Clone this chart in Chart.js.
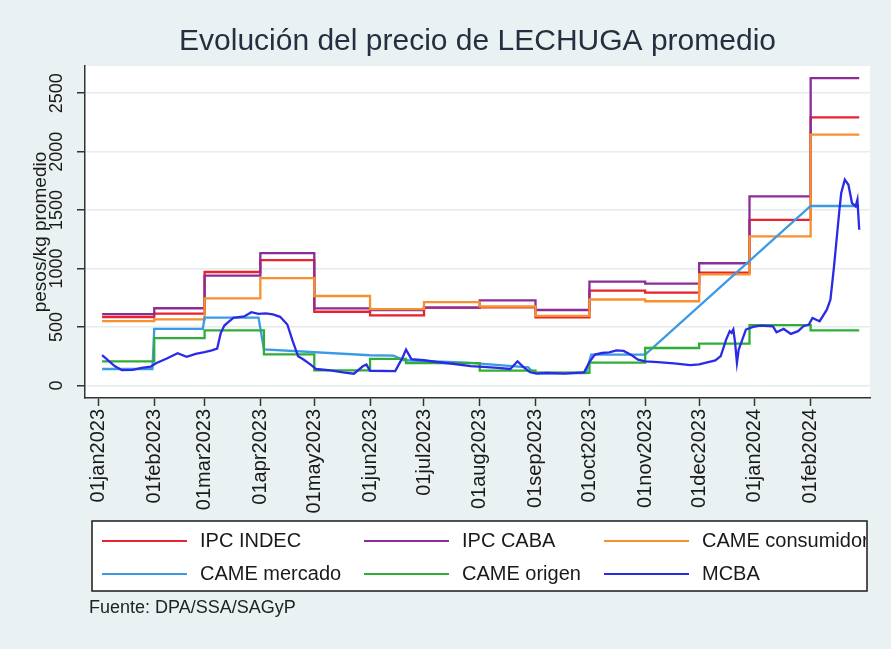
<!DOCTYPE html>
<html>
<head>
<meta charset="utf-8">
<script src="https://cdn.jsdelivr.net/npm/chart.js@4.4.1/dist/chart.umd.min.js"></script>
<style>
    html, body { margin: 0; padding: 0; background: #eaf1f3; }
    #wrap { width: 891px; height: 649px; position: relative; }
</style>
</head>
<body>
<div id="wrap"><canvas id="lechugaChart"></canvas></div>
<script>
// --- data (pesos/kg) ---
const seriesNames = ["IPC INDEC", "IPC CABA", "CAME consumidor", "CAME mercado", "CAME origen", "MCBA"];
const seriesColors = ["#e8232b", "#8c2c98", "#f7902e", "#3b9ae6", "#30ad37", "#2b2be6"];

const monthTicks = ["2023-01-01", "2023-02-01", "2023-03-01", "2023-04-01", "2023-05-01", "2023-06-01", "2023-07-01",
    "2023-08-01", "2023-09-01", "2023-10-01", "2023-11-01", "2023-12-01", "2024-01-01", "2024-02-01"];
const monthLabels = ["01jan2023", "01feb2023", "01mar2023", "01apr2023", "01may2023", "01jun2023", "01jul2023",
    "01aug2023", "01sep2023", "01oct2023", "01nov2023", "01dec2023", "01jan2024", "01feb2024"];
const yTicks = [0, 500, 1000, 1500, 2000, 2500];

// monthly step series share the same change dates
const stepDates = ["2023-01-03", "2023-02-01", "2023-03-01", "2023-04-01", "2023-05-01", "2023-06-01", "2023-07-01",
    "2023-08-01", "2023-09-01", "2023-10-01", "2023-11-01", "2023-12-01", "2023-12-29", "2024-02-01", "2024-02-28"];
const ipcIndec = [585, 614, 970, 1072, 630, 599, 665, 668, 582, 811, 793, 965, 1417, 2293, 2293];
const ipcCaba = [610, 660, 940, 1132, 659, 645, 665, 728, 645, 888, 870, 1045, 1617, 2630, 2630];
const cameConsumidor = [550, 565, 745, 917, 765, 652, 713, 675, 595, 735, 720, 950, 1275, 2145, 2145];

const origenDates = ["2023-01-03", "2023-02-01", "2023-03-01", "2023-04-03", "2023-05-01", "2023-06-01", "2023-06-21",
    "2023-08-01", "2023-09-01", "2023-10-01", "2023-11-01", "2023-12-01", "2023-12-29", "2024-02-01", "2024-02-28"];
const cameOrigen = [206, 404, 470, 265, 129, 226, 191, 126, 108, 195, 320, 358, 515, 470, 470];

const mercadoDates = ["2023-01-03", "2023-01-31", "2023-02-01", "2023-02-28", "2023-03-01", "2023-03-31", "2023-04-03",
    "2023-06-01", "2023-06-14", "2023-06-20", "2023-07-25", "2023-08-28", "2023-08-31", "2023-09-29", "2023-10-02",
    "2023-11-01", "2024-02-01", "2024-02-28"];
const cameMercado = [140, 140, 484, 484, 579, 579, 307, 258, 255, 215, 195, 155, 106, 106, 263, 263, 1535, 1535];

const mcbaDates = ["2023-01-03", "2023-01-07", "2023-01-10", "2023-01-14", "2023-01-20", "2023-01-25", "2023-01-30",
    "2023-02-02", "2023-02-08", "2023-02-14", "2023-02-19", "2023-02-24", "2023-03-01", "2023-03-05", "2023-03-08",
    "2023-03-10", "2023-03-12", "2023-03-14", "2023-03-17", "2023-03-23", "2023-03-27", "2023-03-31", "2023-04-04",
    "2023-04-08", "2023-04-12", "2023-04-16", "2023-04-19", "2023-04-22", "2023-04-25", "2023-04-29", "2023-05-02",
    "2023-05-10", "2023-05-17", "2023-05-23", "2023-05-28", "2023-05-30", "2023-06-01", "2023-06-15", "2023-06-19",
    "2023-06-21", "2023-06-24", "2023-07-01", "2023-07-08", "2023-07-17", "2023-07-27", "2023-08-03", "2023-08-11",
    "2023-08-18", "2023-08-22", "2023-08-25", "2023-08-29", "2023-09-02", "2023-09-07", "2023-09-17", "2023-09-28",
    "2023-10-01", "2023-10-04", "2023-10-08", "2023-10-12", "2023-10-16", "2023-10-20", "2023-10-24", "2023-10-28",
    "2023-11-01", "2023-11-08", "2023-11-17", "2023-11-26", "2023-12-01", "2023-12-10", "2023-12-13", "2023-12-16",
    "2023-12-18", "2023-12-19", "2023-12-20", "2023-12-21", "2023-12-22", "2023-12-23", "2023-12-25", "2023-12-27",
    "2023-12-31", "2024-01-04", "2024-01-11", "2024-01-13", "2024-01-17", "2024-01-21", "2024-01-25", "2024-01-28",
    "2024-01-31", "2024-02-02", "2024-02-06", "2024-02-10", "2024-02-12", "2024-02-14", "2024-02-17", "2024-02-18",
    "2024-02-20", "2024-02-22", "2024-02-24", "2024-02-26", "2024-02-27", "2024-02-28"];
const mcba = [258, 206, 165, 130, 132, 150, 160,
    190, 230, 275, 245, 270, 285, 300, 315,
    449, 512, 540, 577, 590, 626, 612, 616,
    607, 587, 521, 378, 249, 221, 178, 140,
    129, 112, 100, 163, 178, 125, 122, 235,
    306, 225, 215, 200, 185, 165, 158, 150,
    140, 206, 160, 112, 100, 106, 100, 112,
    200, 263, 277, 283, 300, 295, 263, 220,
    206, 199, 188, 173, 179, 213, 250, 392,
    464, 449, 478, 364, 193, 307, 392, 478,
    501, 512, 506, 455, 483, 441, 464, 506,
    520, 577, 549, 648, 734, 1018, 1503, 1646,
    1760, 1717, 1560, 1532, 1589, 1332];

// days since 01jan2023
function dayOf(s) {
    const [y, m, d] = s.split("-").map(Number);
    return (Date.UTC(y, m - 1, d) - Date.UTC(2023, 0, 1)) / 86400000;
}
function toPoints(dates, values) {
    return dates.map((d, i) => ({ x: dayOf(d), y: values[i] }));
}

const FONT = "'Liberation Sans', Arial, sans-serif";

const dataSpecs = [
    { dates: stepDates, values: ipcIndec, stepped: true },
    { dates: stepDates, values: ipcCaba, stepped: true },
    { dates: stepDates, values: cameConsumidor, stepped: true },
    { dates: mercadoDates, values: cameMercado, stepped: false },
    { dates: origenDates, values: cameOrigen, stepped: true },
    { dates: mcbaDates, values: mcba, stepped: false }
];

const datasets = dataSpecs.map((s, i) => ({
    label: seriesNames[i],
    data: toPoints(s.dates, s.values),
    borderColor: seriesColors[i],
    backgroundColor: seriesColors[i],
    borderWidth: 2.3,
    pointRadius: 0,
    stepped: s.stepped,
    tension: 0,
    fill: false,
    order: seriesNames.length - 1 - i
}));

const plotBackground = {
    id: "plotBackground",
    beforeDraw(chart) {
        const { ctx, chartArea: a } = chart;
        ctx.save();
        ctx.fillStyle = "#ffffff";
        ctx.fillRect(a.left, a.top, a.right - a.left, a.bottom - a.top);
        ctx.restore();
    }
};

// boxed legend in 3 columns + source note
const boxLegend = {
    id: "boxLegend",
    afterDraw(chart) {
        const ctx = chart.ctx;
        const box = { x: 92, y: 521, w: 775, h: 70 };
        const colX = [102, 364, 604];
        const rowY = [541, 574];
        ctx.save();
        ctx.fillStyle = "#ffffff";
        ctx.fillRect(box.x, box.y, box.w, box.h);
        ctx.strokeStyle = "#1a1a1a";
        ctx.lineWidth = 1.5;
        ctx.strokeRect(box.x, box.y, box.w, box.h);
        ctx.beginPath();
        ctx.rect(box.x, box.y, box.w - 1, box.h);
        ctx.clip();
        ctx.font = "20px " + FONT;
        ctx.textBaseline = "middle";
        chart.data.datasets.forEach((ds, i) => {
            const x = colX[i % 3];
            const y = rowY[Math.floor(i / 3)];
            ctx.strokeStyle = ds.borderColor;
            ctx.lineWidth = 2;
            ctx.beginPath();
            ctx.moveTo(x, y);
            ctx.lineTo(x + 85, y);
            ctx.stroke();
            ctx.fillStyle = "#1a1a1a";
            ctx.fillText(ds.label, x + 98, y);
        });
        ctx.restore();

        ctx.save();
        ctx.font = "18px " + FONT;
        ctx.fillStyle = "#222";
        ctx.textBaseline = "middle";
        ctx.fillText("Fuente: DPA/SSA/SAGyP", 89, 608);
        ctx.restore();
    }
};

new Chart(document.getElementById("lechugaChart").getContext("2d"), {
    type: "line",
    data: { datasets },
    options: {
        responsive: true,
        maintainAspectRatio: false,
        animation: false,
        layout: { padding: { top: 14, left: 20, right: 21, bottom: 133 } },
        plugins: {
            legend: { display: false },
            tooltip: { enabled: false },
            title: {
                display: true,
                fullSize: false,
                text: "Evolución del precio de LECHUGA promedio",
                color: "#24303f",
                font: { family: FONT, size: 30, weight: "normal" },
                padding: { top: 10, bottom: 6 }
            }
        },
        scales: {
            x: {
                type: "linear",
                min: -7.5,
                max: 429,
                afterBuildTicks: s => { s.ticks = monthTicks.map(d => ({ value: dayOf(d) })); },
                afterFit: s => { s.height = 118; },
                ticks: {
                    autoSkip: false,
                    minRotation: 90,
                    maxRotation: 90,
                    padding: 3,
                    color: "#1a1a1a",
                    font: { family: FONT, size: 20 },
                    callback: (v, i) => monthLabels[i]
                },
                grid: { drawOnChartArea: false, tickLength: 8, tickColor: "#333", tickWidth: 1.5 },
                border: { color: "#333", width: 1.5 }
            },
            y: {
                min: -108,
                max: 2733,
                afterBuildTicks: s => { s.ticks = yTicks.map(v => ({ value: v })); },
                afterFit: s => { s.width = 65; },
                ticks: {
                    minRotation: 90,
                    maxRotation: 90,
                    crossAlign: "center",
                    padding: 0,
                    color: "#1a1a1a",
                    font: { family: FONT, size: 18 },
                    callback: v => String(v)
                },
                grid: { color: "#e4ecef", lineWidth: 1.5, tickLength: 8, tickColor: "#333", tickWidth: 1.5 },
                border: { color: "#333", width: 1.5 },
                title: {
                    display: true,
                    text: "pesos/kg promedio",
                    color: "#1a1a1a",
                    font: { family: FONT, size: 19 },
                    padding: { top: 9, bottom: 0 }
                }
            }
        }
    },
    plugins: [plotBackground, boxLegend]
});
</script>
</body>
</html>
